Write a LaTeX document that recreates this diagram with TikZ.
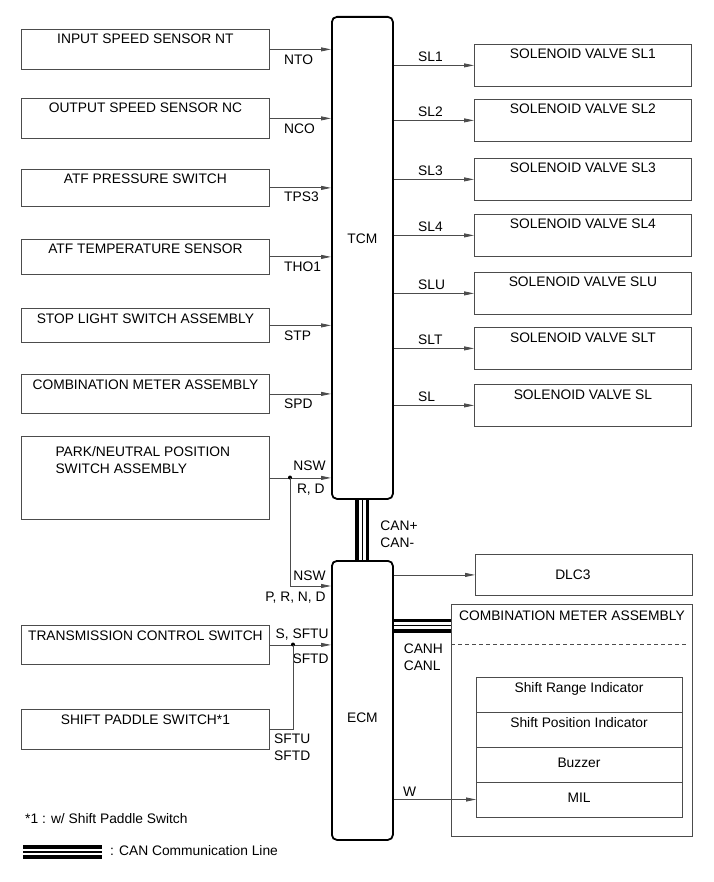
\documentclass[tikz,border=0pt]{standalone}
\usepackage{fontspec}
\setmainfont{Liberation Sans}
\usetikzlibrary{arrows.meta, positioning}

\begin{document}
\begin{tikzpicture}[
    x=1pt, y=-1pt,
    font=\fontsize{13.8}{17}\selectfont,
    box/.style={draw=black!70, line width=0.8pt, inner sep=0pt, anchor=north west},
    inbox/.style={box, minimum width=248pt},
    valve/.style={box, minimum width=217pt, minimum height=42pt},
    cell/.style={draw=black!70, line width=0.8pt, inner sep=0pt, outer sep=0pt, minimum width=206pt, minimum height=35pt},
    ecu/.style={draw, line width=1.8pt, rounded corners=5pt, inner sep=0pt, anchor=north west, minimum width=61pt},
    btext/.style={anchor=base, yshift=-15pt},
    wire/.style={draw=black!70, line width=0.8pt},
    arr/.style={wire, -{Triangle[length=10pt, width=4pt]}},
    sig/.style={inner sep=0pt, text=black},
    dot/.style={circle, fill=black, inner sep=0pt, minimum size=4pt},
    can/.style={line width=14pt, postaction={draw=white, line width=6.5pt}, postaction={draw=black, line width=1.6pt}}
]
    \useasboundingbox (0,0) rectangle (713,882);

    % Control units
    \node[ecu, minimum height=482pt, label={[anchor=base, yshift=-228pt]north:TCM}] (tcm) at (331,16) {};
    \node[ecu, minimum height=279pt, label={[anchor=base, yshift=-162pt]north:ECM}] (ecm) at (331,560) {};

    % Sensors and switches
    \node[inbox, minimum height=40pt, label={[btext]north:INPUT SPEED SENSOR NT}] (nt) at (21,29) {};
    \node[inbox, minimum height=40pt, label={[btext]north:OUTPUT SPEED SENSOR NC}] (nc) at (21,98) {};
    \node[inbox, minimum height=37pt, label={[btext]north:ATF PRESSURE SWITCH}] (tps) at (21,169) {};
    \node[inbox, minimum height=35pt, label={[btext]north:ATF TEMPERATURE SENSOR}] (tho) at (21,239) {};
    \node[inbox, minimum height=34pt, label={[btext]north:STOP LIGHT SWITCH ASSEMBLY}] (stp) at (21,308) {};
    \node[inbox, minimum height=39pt, label={[btext]north:COMBINATION METER ASSEMBLY}] (spd) at (21,374) {};
    \node[inbox, minimum height=83pt, label={[align=left, anchor=north west, xshift=31pt, yshift=-7pt]north west:PARK/NEUTRAL POSITION\\SWITCH ASSEMBLY}] (pnp) at (21,436) {};
    \node[inbox, minimum height=39pt, label={[btext]north:TRANSMISSION CONTROL SWITCH}] (tcs) at (21,625) {};
    \node[inbox, minimum height=40pt, label={[btext]north:SHIFT PADDLE SWITCH*1}] (psw) at (21,709) {};

    % Inputs to TCM
    \draw[arr] (nt.east) -- (nt.east -| tcm.west) node[sig, pos=0, anchor=base west, xshift=14pt, yshift=-15pt] {NTO};
    \draw[arr] (nc.east) -- (nc.east -| tcm.west) node[sig, pos=0, anchor=base west, xshift=14pt, yshift=-15pt] {NCO};
    \draw[arr] (tps.east) -- (tps.east -| tcm.west) node[sig, pos=0, anchor=base west, xshift=14pt, yshift=-14pt] {TPS3};
    \draw[arr] (tho.east) -- (tho.east -| tcm.west) node[sig, pos=0, anchor=base west, xshift=14pt, yshift=-15pt] {THO1};
    \draw[arr] (stp.east) -- (stp.east -| tcm.west) node[sig, pos=0, anchor=base west, xshift=14pt, yshift=-15pt] {STP};
    \draw[arr] (spd.east) -- (spd.east -| tcm.west) node[sig, pos=0, anchor=base west, xshift=14pt, yshift=-15pt] {SPD};

    % Park/neutral position to TCM and ECM
    \draw[arr] (pnp.east) -- (pnp.east -| tcm.west) node[sig, pos=1, anchor=base east, xshift=-5pt, yshift=7pt] {NSW} node[sig, pos=1, anchor=base east, xshift=-6pt, yshift=-16pt] {R, D};
    \node[dot] (j1) at (290,477.5) {};
    \draw[arr] (j1.center) |- ([yshift=-26pt]ecm.north west) node[sig, pos=1, anchor=base east, xshift=-5pt, yshift=6pt] {NSW} node[sig, pos=1, anchor=base east, xshift=-5pt, yshift=-15pt] {P, R, N, D};

    % Shift switches to ECM
    \draw[arr] (tcs.east) -- (tcs.east -| ecm.west) node[sig, pos=1, anchor=base east, xshift=-2pt, yshift=6pt] {S, SFTU} node[sig, pos=1, anchor=base east, xshift=-2pt, yshift=-19pt] {SFTD};
    \node[dot] (j2) at (293,644.5) {};
    \draw[wire] (psw.east) -| (j2.center) node[sig, pos=0, anchor=north west, align=left, xshift=4pt, yshift=-4pt] {SFTU\\SFTD};

    % Solenoid valves
    \node[valve, label={[btext]north:SOLENOID VALVE SL1}] (sl1) at (474,44) {};
    \node[valve, label={[btext]north:SOLENOID VALVE SL2}] (sl2) at (474,99) {};
    \node[valve, label={[btext]north:SOLENOID VALVE SL3}] (sl3) at (474,158) {};
    \node[valve, label={[btext]north:SOLENOID VALVE SL4}] (sl4) at (474,214) {};
    \node[valve, label={[btext]north:SOLENOID VALVE SLU}] (slu) at (474,272) {};
    \node[valve, label={[btext]north:SOLENOID VALVE SLT}] (slt) at (474,327) {};
    \node[valve, label={[btext]north:SOLENOID VALVE SL}] (sl) at (474,384) {};

    \draw[arr] (sl1.west -| tcm.east) -- (sl1.west) node[sig, pos=0, anchor=base west, xshift=24pt, yshift=4pt] {SL1};
    \draw[arr] (sl2.west -| tcm.east) -- (sl2.west) node[sig, pos=0, anchor=base west, xshift=24pt, yshift=4pt] {SL2};
    \draw[arr] (sl3.west -| tcm.east) -- (sl3.west) node[sig, pos=0, anchor=base west, xshift=24pt, yshift=4pt] {SL3};
    \draw[arr] (sl4.west -| tcm.east) -- (sl4.west) node[sig, pos=0, anchor=base west, xshift=24pt, yshift=4pt] {SL4};
    \draw[arr] (slu.west -| tcm.east) -- (slu.west) node[sig, pos=0, anchor=base west, xshift=24pt, yshift=4pt] {SLU};
    \draw[arr] (slt.west -| tcm.east) -- (slt.west) node[sig, pos=0, anchor=base west, xshift=24pt, yshift=4pt] {SLT};
    \draw[arr] (sl.west -| tcm.east) -- (sl.west) node[sig, pos=0, anchor=base west, xshift=24pt, yshift=4pt] {SL};

    % DLC3 and combination meter
    \node[valve, minimum height=41pt, label={[anchor=center, xshift=-11pt]center:DLC3}] (dlc) at (475,554) {};
    \draw[arr] (dlc.west -| ecm.east) -- (dlc.west);

    \node[box, minimum width=241pt, minimum height=232pt, label={[anchor=base, yshift=-16pt]north:COMBINATION METER ASSEMBLY}] (cmeter) at (451,604) {};
    \draw[wire, dash pattern=on 4pt off 3pt] ([yshift=-40pt]cmeter.north west) -- ([yshift=-40pt, xshift=-4pt]cmeter.north east);

    \node[cell, anchor=north west, label={[btext]north:Shift Range Indicator}] (srange) at (476,677) {};
    \node[cell, below=0pt of srange, label={[btext]north:Shift Position Indicator}] (spos) {};
    \node[cell, below=0pt of spos, label={[anchor=base, yshift=-20pt]north:Buzzer}] (buzzer) {};
    \node[cell, below=0pt of buzzer, label={[anchor=base, yshift=-20pt]north:MIL}] (mil) {};

    \draw[arr] (mil.west -| ecm.east) -- (mil.west) node[sig, pos=0, anchor=base west, xshift=9pt, yshift=3.5pt] {W};

    % CAN lines
    \draw[can] (tcm.south) -- (ecm.north) node[sig, pos=0, anchor=north west, align=left, xshift=11pt, yshift=-14pt] {CAN+\\CAN-};
    \coordinate (canh) at (451,625.5);
    \draw[can] (canh -| ecm.east) -- (canh) node[sig, pos=0, anchor=north west, align=left, xshift=3pt, yshift=-11.5pt] {CANH\\CANL};

    % Notes
    \node[anchor=base west, inner sep=0pt] (note) at (25,823) {*1 : w/ Shift Paddle Switch};
    \coordinate (lg1) at (23,852);
    \coordinate (lg2) at (102,852);
    \draw[can] (lg1) -- (lg2);
    \node[anchor=base west, inner sep=0pt] (legend) at (110,855) {: CAN Communication Line};

\end{tikzpicture}
\end{document}
